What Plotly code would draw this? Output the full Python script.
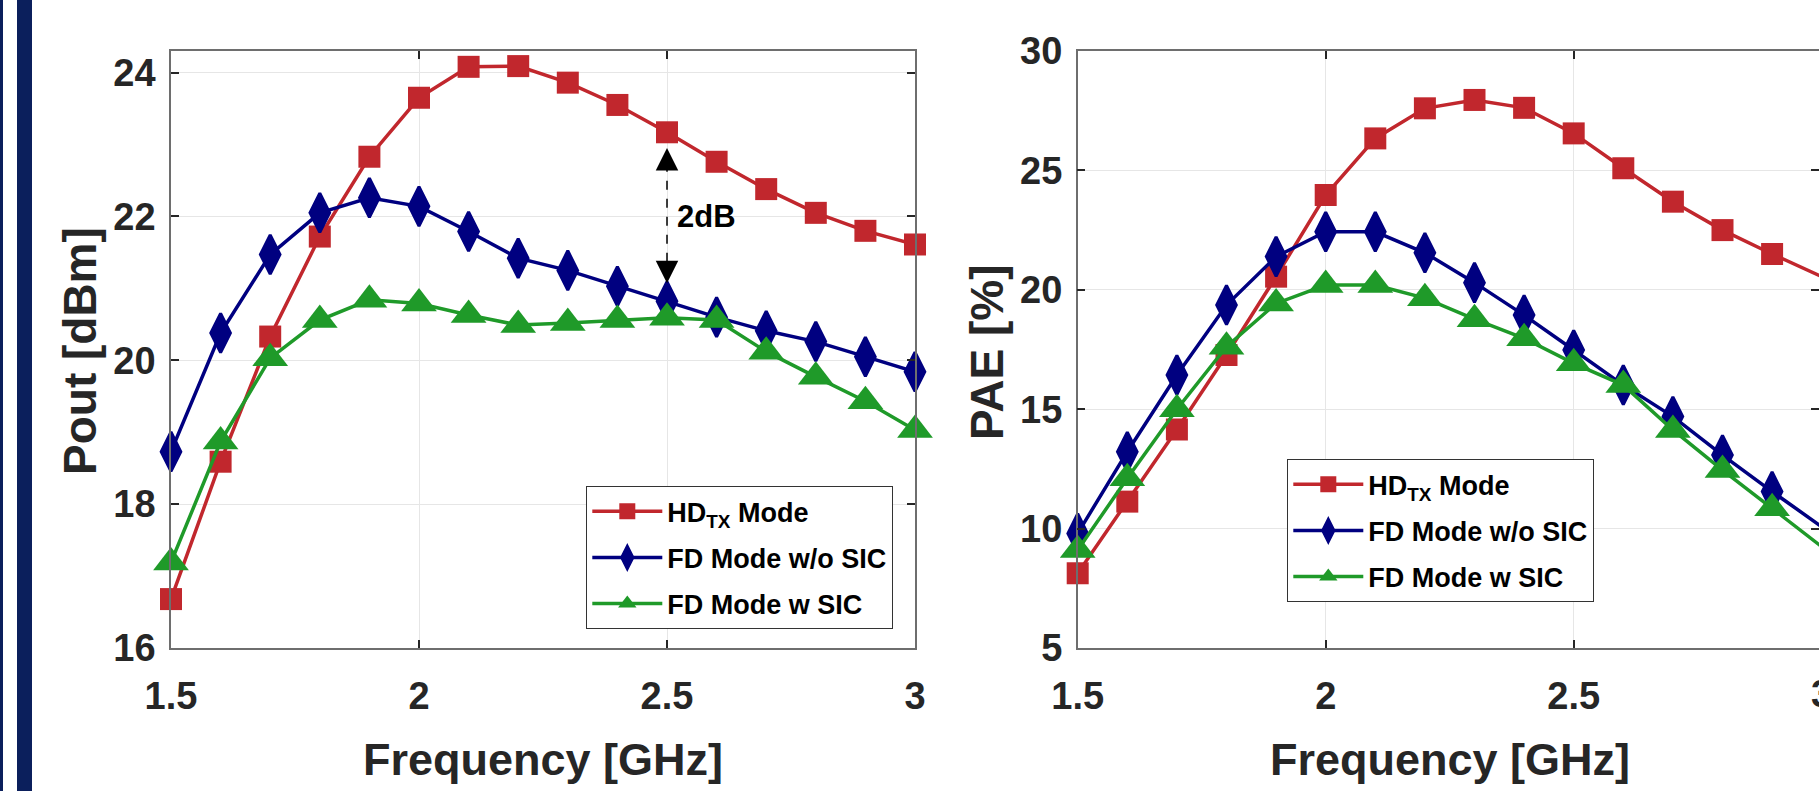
import plotly.graph_objects as go

# ---------------- data ----------------
freq = [1.5, 1.6, 1.7, 1.8, 1.9, 2.0, 2.1, 2.2, 2.3, 2.4, 2.5, 2.6, 2.7, 2.8, 2.9, 3.0]

pout_hd = [16.68, 18.59, 20.33, 21.72, 22.83, 23.65, 24.08, 24.09, 23.86, 23.55,
           23.17, 22.76, 22.38, 22.05, 21.80, 21.61]
pout_fd_nosic = [18.73, 20.38, 21.47, 22.05, 22.26, 22.14, 21.79, 21.42, 21.25, 21.03,
                 20.82, 20.60, 20.41, 20.26, 20.05, 19.84]
pout_fd_sic = [17.19, 18.87, 20.03, 20.56, 20.84, 20.79, 20.63, 20.49, 20.52, 20.56,
               20.59, 20.56, 20.12, 19.77, 19.43, 19.03]

pae_hd = [8.13, 11.13, 14.15, 17.27, 20.55, 23.97, 26.34, 27.60, 27.95, 27.62,
          26.55, 25.09, 23.69, 22.50, 21.50, 20.55]
pae_fd_nosic = [9.80, 13.22, 16.43, 19.36, 21.39, 22.43, 22.43, 21.55, 20.30, 18.94,
                17.48, 16.01, 14.69, 13.08, 11.55, 10.08]
pae_fd_sic = [9.10, 12.11, 15.00, 17.62, 19.43, 20.20, 20.20, 19.65, 18.77, 17.97,
              16.92, 16.01, 14.13, 12.45, 10.85, 9.24]

series_names = ["HD<sub>TX</sub> Mode", "FD Mode w/o SIC", "FD Mode w SIC"]

x_ticks = [1.5, 2.0, 2.5, 3.0]
x_ticktext = ["1.5", "2", "2.5", "3"]
pout_ticks = [16, 18, 20, 22, 24]
pae_ticks = [5, 10, 15, 20, 25, 30]

# annotation values (dB gap marker at 2.5 GHz)
gap_freq = 2.5
gap_label = "2dB"
gap_label_y = 22.0
arrow_top_tip, arrow_top_base = 22.95, 22.67
arrow_bot_base, arrow_bot_tip = 21.37, 21.07

# ---------------- style ----------------
W, H = 1819, 791
FONT = "Liberation Sans, Arial, sans-serif"
RED, BLUE, GREEN = "#C1272D", "#000080", "#1F9A29"
NAVY = "#0B1F5C"
colors = [RED, BLUE, GREEN]
symbols = ["square", "diamond-tall", "triangle-up"]
sizes = [22, 28, 31]
mline = [0, 3, 0]

# plot areas in pixels
L_X0, L_X1 = 171, 915
R_X0 = 1077.7
Y_TOP, Y_BOT = 51, 648
span_px = L_X1 - L_X0
r_xmax = 1.5 + (W - R_X0) / span_px * 1.5

fig = go.Figure()

left_series = [pout_hd, pout_fd_nosic, pout_fd_sic]
right_series = [pae_hd, pae_fd_nosic, pae_fd_sic]

for side, (series, xa, ya, lg) in enumerate([(left_series, "x", "y", "legend"),
                                              (right_series, "x2", "y2", "legend2")]):
    for i, ys in enumerate(series):
        fig.add_trace(go.Scatter(
            x=freq, y=ys, name=series_names[i], mode="lines+markers",
            line=dict(color=colors[i], width=3.5),
            marker=dict(symbol=symbols[i], size=sizes[i], color=colors[i],
                        line=dict(color=colors[i], width=mline[i])),
            cliponaxis=False, xaxis=xa, yaxis=ya, legend=lg,
            legendgroup=f"s{side}_{i}"))

tickfont = dict(family=FONT, size=38, color="#262626", weight="bold")
common_axis = dict(
    showgrid=True, gridcolor="#E6E6E6", gridwidth=1,
    showline=True, linecolor="#6E6E6E", linewidth=1.5,
    mirror="ticks", ticks="inside", ticklen=8, tickwidth=1.5, tickcolor="#262626",
    tickfont=tickfont, zeroline=False, automargin=False,
)

ydom = [1 - Y_BOT / H, 1 - Y_TOP / H]

legend_common = dict(xanchor="left", yanchor="top",
                     bgcolor="white", bordercolor="#333333", borderwidth=1.3,
                     font=dict(family=FONT, size=27, color="black", weight="bold"),
                     traceorder="grouped", tracegroupgap=8, itemwidth=70)

fig.update_layout(
    width=W, height=H,
    margin=dict(l=0, r=0, t=0, b=0, autoexpand=False),
    paper_bgcolor="white", plot_bgcolor="white",
    xaxis=dict(domain=[L_X0 / W, L_X1 / W], range=[1.5, 3.0], anchor="y",
               tickvals=x_ticks, ticktext=x_ticktext, ticklabelstandoff=14, **common_axis),
    yaxis=dict(domain=ydom, range=[16, 24.3], anchor="x",
               tickvals=pout_ticks, ticklabelstandoff=6, **common_axis),
    xaxis2=dict(domain=[R_X0 / W, 1.0], range=[1.5, r_xmax], anchor="y2",
                tickvals=x_ticks, ticktext=x_ticktext, ticklabelstandoff=14, **common_axis),
    yaxis2=dict(domain=ydom, range=[5, 30], anchor="x2",
                tickvals=pae_ticks, ticklabelstandoff=6, **common_axis),
    legend=dict(x=586 / W, y=1 - 486 / H, **legend_common),
    legend2=dict(x=1287 / W, y=1 - 459 / H, **legend_common),
    showlegend=True,
)

title_font_v = dict(family=FONT, size=46, color="#262626", weight="bold")
title_font_h = dict(family=FONT, size=45, color="#262626", weight="bold")

annotations = [
    dict(text="Pout [dBm]", xref="paper", yref="paper", x=80 / W, y=1 - 351 / H,
         textangle=-90, showarrow=False, font=title_font_v, xanchor="center", yanchor="middle"),
    dict(text="PAE [%]", xref="paper", yref="paper", x=987 / W, y=1 - 352 / H,
         textangle=-90, showarrow=False, font=title_font_v, xanchor="center", yanchor="middle"),
    dict(text="Frequency [GHz]", xref="paper", yref="paper", x=(L_X0 + L_X1) / 2 / W, y=1 - 759 / H,
         showarrow=False, font=title_font_h, xanchor="center", yanchor="middle"),
    dict(text="Frequency [GHz]", xref="paper", yref="paper", x=(R_X0 + R_X0 + span_px) / 2 / W,
         y=1 - 759 / H, showarrow=False, font=title_font_h, xanchor="center", yanchor="middle"),
    # partially visible last tick label of the right plot (axis end lies past the window edge)
    dict(text=x_ticktext[-1], xref="paper", yref="paper", x=(R_X0 + span_px) / W, y=1 - 694 / H,
         showarrow=False, font=tickfont, xanchor="center", yanchor="middle"),
    # 2dB marker
    dict(text=gap_label, xref="x", yref="y", x=gap_freq, y=gap_label_y, xanchor="left",
         yanchor="middle", xshift=8, showarrow=False,
         font=dict(family=FONT, size=31, color="black", weight="bold")),
    dict(text="", xref="x", yref="y", x=gap_freq, y=arrow_top_tip, ax=0, ay=20,
         showarrow=True, arrowhead=2, arrowsize=3, arrowwidth=1.5, arrowcolor="black"),
    dict(text="", xref="x", yref="y", x=gap_freq, y=arrow_bot_tip, ax=0, ay=-20,
         showarrow=True, arrowhead=2, arrowsize=3, arrowwidth=1.5, arrowcolor="black"),
]
fig.update_layout(annotations=annotations)

shapes = [
    dict(type="line", xref="x", yref="y", x0=gap_freq, x1=gap_freq,
         y0=arrow_bot_base, y1=arrow_top_base, line=dict(color="black", width=1.5, dash="dash")),
    dict(type="rect", xref="paper", yref="paper", x0=0, x1=3 / W, y0=0, y1=1,
         fillcolor=NAVY, line=dict(width=0), layer="above"),
    dict(type="rect", xref="paper", yref="paper", x0=17 / W, x1=32 / W, y0=0, y1=1,
         fillcolor=NAVY, line=dict(width=0), layer="above"),
]
fig.update_layout(shapes=shapes)

fig.write_html("out.html")
